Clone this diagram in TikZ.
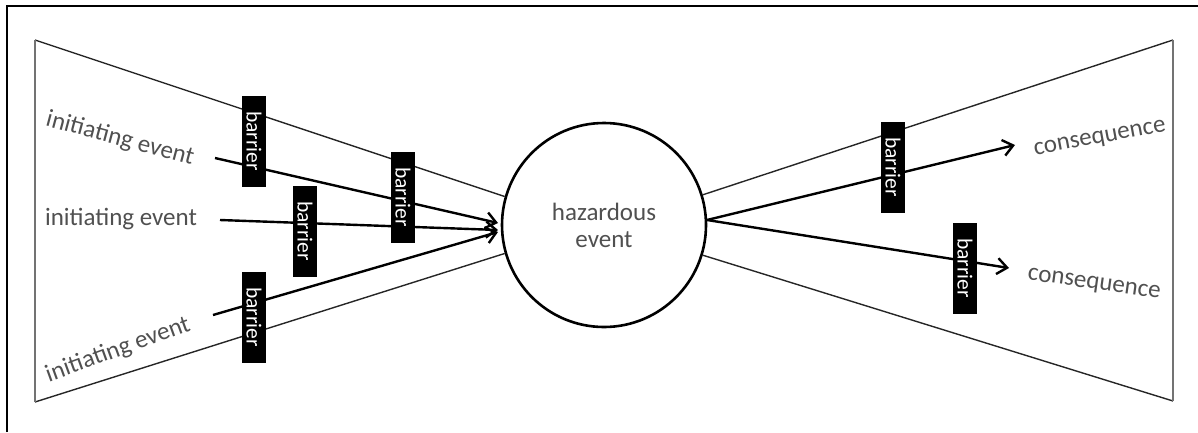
\documentclass[tikz,border=0pt]{standalone}
\usepackage{fontspec}
\setmainfont{Carlito}
\usetikzlibrary{arrows.meta}
\definecolor{labelgray}{HTML}{505050}
\tikzset{
  thinline/.style={line width=1.4pt, black!85},
  flow/.style={line width=2.4pt, -{Straight Barb[length=10pt,width=16pt,line width=2.4pt]}},
  barrierbox/.style={fill=black, text=white, rotate=-90, minimum width=91pt,
    minimum height=24pt, inner sep=0pt, font=\fontsize{21.5}{24}\selectfont},
  eventlabel/.style={text=labelgray, inner sep=0pt, font=\fontsize{25}{30}\selectfont},
}
\begin{document}
\begin{tikzpicture}[x=1pt,y=-1pt]
\useasboundingbox (0,0) rectangle (1198,432);

% outer frame (top and left edges)
\draw[line width=2.6pt] (7,432) -- (7,6) -- (1198,6);

% central event
\node[circle, draw, line width=2.6pt, fill=white, minimum size=204pt, inner sep=0pt,
      align=center, text=labelgray, font=\fontsize{25}{27}\selectfont] (haz) at (604,225)
      {hazardous\\event};

% left funnel
\coordinate (ltop) at (35,40);
\coordinate (lbot) at (35,402);
\draw[thinline] (haz.164) -- (ltop);
\draw[thinline] (haz.196) -- (lbot);
\draw[line width=1.4pt, black!55] (ltop) -- (lbot);

% right funnel
\coordinate (rtop) at (1173,40);
\coordinate (rbot) at (1173,401);
\draw[thinline] (haz.17) -- (rtop);
\draw[thinline] (haz.343) -- (rbot);
\draw[line width=1.4pt, black!55] (rtop) -- (rbot);

% initiating events
\node[eventlabel, rotate=-15] (ie1) at (120,139) {initiating event};
\node[eventlabel] (ie2) at (121,219) {initiating event};
\node[eventlabel, rotate=20] (ie3) at (118,350) {initiating event};

% consequences
\node[eventlabel, rotate=10.5] (c1) at (1100,139) {consequence};
\node[eventlabel, rotate=-8] (c2) at (1094,285) {consequence};

% arrow end points
\coordinate (s1) at (215,158);
\coordinate (s2) at (220,220);
\coordinate (s3) at (213,315);
\coordinate (e1) at (498,223);
\coordinate (e2) at (498,230);
\coordinate (e3) at (498,232);
\coordinate (r0) at (707,220);
\coordinate (t1) at (1015,145);
\coordinate (t2) at (1009,268);

\draw[flow] (s1) -- (e1);
\draw[flow] (s2) -- (e2);
\draw[flow] (s3) -- (e3);
\draw[flow] (r0) -- (t1);
\draw[flow] (r0) -- (t2);

% barriers
\node[barrierbox] (b1) at (254,141) {barrier};
\node[barrierbox] (b2) at (403,197) {barrier};
\node[barrierbox] (b3) at (305,231) {barrier};
\node[barrierbox] (b4) at (254,317) {barrier};
\node[barrierbox] (b5) at (893,167) {barrier};
\node[barrierbox] (b6) at (965,268) {barrier};
\end{tikzpicture}
\end{document}
